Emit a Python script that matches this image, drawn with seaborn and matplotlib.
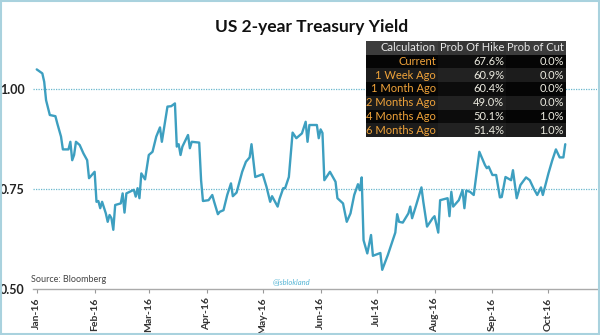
import matplotlib
matplotlib.use("Agg")
import matplotlib.pyplot as plt
import matplotlib.dates as mdates
from matplotlib.patches import Rectangle
import numpy as np
import pandas as pd
import seaborn as sns

# ---- data ----
day_offset = [0, 3, 4, 5, 7, 10, 11, 13, 14, 17, 18, 19, 20, 21, 23, 25, 27, 28, 31, 32,
              33, 34, 35, 37, 38, 39, 40, 41, 42, 45, 46, 47, 48, 52, 53, 54, 55, 56, 58, 60,
              62, 64, 66, 67, 70, 72, 74, 75, 76, 77, 78, 81, 82, 83, 87, 88, 89, 92, 94, 95,
              97, 98, 100, 102, 104, 105, 107, 110, 112, 114, 115, 117, 121, 123, 125, 126, 129, 130, 132, 133,
              135, 137, 139, 142, 144, 145, 146, 150, 151, 152, 153, 154, 157, 160, 161, 164, 166, 168, 170, 172,
              173, 174, 175, 177, 179, 180, 184, 185, 188, 192, 193, 194, 196, 199, 200, 201, 203, 206, 207, 209,
              212, 213, 215, 216, 220, 221, 222, 223, 226, 228, 229, 230, 232, 234, 237, 240, 241, 242, 244, 246,
              248, 249, 251, 254, 255, 257, 259, 262, 264, 266, 268, 270, 271, 274, 276, 278, 280, 282, 283]
yield_pct = [1.049, 1.039, 1.018, 0.972, 0.935, 0.932, 0.914, 0.881, 0.849, 0.849, 0.868, 0.822, 0.835, 0.868, 0.860, 0.839, 0.822, 0.777, 0.793, 0.718,
             0.720, 0.702, 0.718, 0.689, 0.668, 0.685, 0.677, 0.648, 0.710, 0.714, 0.739, 0.691, 0.739, 0.748, 0.731, 0.752, 0.727, 0.789, 0.774, 0.835,
             0.843, 0.881, 0.904, 0.868, 0.956, 0.957, 0.964, 0.856, 0.862, 0.835, 0.856, 0.885, 0.852, 0.868, 0.866, 0.772, 0.720, 0.722, 0.735, 0.718,
             0.687, 0.693, 0.697, 0.735, 0.764, 0.732, 0.741, 0.793, 0.818, 0.829, 0.862, 0.780, 0.787, 0.756, 0.718, 0.732, 0.706, 0.725, 0.752, 0.752,
             0.780, 0.891, 0.877, 0.889, 0.918, 0.868, 0.910, 0.910, 0.877, 0.899, 0.890, 0.772, 0.793, 0.768, 0.727, 0.714, 0.668, 0.689, 0.735, 0.762,
             0.747, 0.779, 0.622, 0.589, 0.635, 0.583, 0.590, 0.548, 0.585, 0.641, 0.687, 0.668, 0.666, 0.689, 0.706, 0.677, 0.707, 0.754, 0.718, 0.656,
             0.677, 0.682, 0.641, 0.722, 0.727, 0.682, 0.743, 0.706, 0.722, 0.747, 0.702, 0.746, 0.743, 0.735, 0.843, 0.810, 0.802, 0.806, 0.785, 0.785,
             0.729, 0.730, 0.780, 0.772, 0.797, 0.727, 0.760, 0.779, 0.772, 0.752, 0.735, 0.754, 0.735, 0.789, 0.821, 0.849, 0.829, 0.829, 0.862]

y_ticks = [0.50, 0.75, 1.00]
y_tick_labels = ["0.50", "0.75", "1.00"]
month_labels = ["Jan-16", "Feb-16", "Mar-16", "Apr-16", "May-16", "Jun-16",
                "Jul-16", "Aug-16", "Sep-16", "Oct-16"]

table_header = ["Calculation", "Prob Of Hike", "Prob of Cut"]
table_rows = ["Current", "1 Week Ago", "1 Month Ago", "2 Months Ago", "4 Months Ago", "6 Months Ago"]
prob_hike = ["67.6%", "60.9%", "60.4%", "49.0%", "50.1%", "51.4%"]
prob_cut = ["0.0%", "0.0%", "0.0%", "0.0%", "1.0%", "1.0%"]

title = "US 2-year Treasury Yield"
source = "Source: Bloomberg"
handle = "@jsblokland"

# ---- build ----
start = pd.Timestamp("2016-01-01")
df = pd.DataFrame({"date": start + pd.to_timedelta(day_offset, unit="D"),
                   "yield": yield_pct})

sns.set_theme(style="white")
plt.rcParams["font.family"] = ["Lato", "DejaVu Sans"]

W, H = 600, 335
fig = plt.figure(figsize=(6, 3.35), dpi=100)
fig.patch.set_facecolor("white")

def fx(px):
    return px / W

def fy(py):
    return 1 - py / H

ax_l, ax_r, ax_t, ax_b = 33, 597, 41, 289
ax = fig.add_axes([fx(ax_l), fy(ax_b), fx(ax_r - ax_l), (ax_b - ax_t) / H])

line_color = "#3d9fc0"
sns.lineplot(data=df, x="date", y="yield", ax=ax, color=line_color, linewidth=1.7)

ax.set_xlim(start - pd.Timedelta(days=2), start + pd.Timedelta(days=300))
ax.set_ylim(0.50, 1.12)

for v in [0.75, 1.00]:
    ax.axhline(v, color="#6ab8cf", linestyle=(0, (1, 1)), linewidth=0.9, zorder=0)

month_ticks = pd.date_range("2016-01-01", periods=len(month_labels), freq="MS")
ax.set_xticks(month_ticks)
ax.set_xticklabels(month_labels, rotation=90, fontsize=7.5, fontweight="bold", color="#333333")
ax.set_yticks(y_ticks)
ax.set_yticklabels(y_tick_labels, fontsize=9, fontweight="bold", color="#222222")
ax.tick_params(axis="x", length=3, width=0.8, color="#999999", pad=3, bottom=True)
ax.tick_params(axis="y", length=0, pad=6)
ax.set_xlabel("")
ax.set_ylabel("")
for s in ["top", "right", "left"]:
    ax.spines[s].set_visible(False)
ax.spines["bottom"].set_color("#aaaaaa")
ax.spines["bottom"].set_linewidth(1.0)
ax.set_facecolor("none")

# title and notes
fig.text(fx(312), fy(27), title, ha="center", va="center", fontsize=12.5,
         fontweight="bold", color="#111111")
fig.text(fx(31), fy(280), source, ha="left", va="center", fontsize=6.5, color="#444444")
fig.text(fx(291), fy(282), handle, ha="center", va="center", fontsize=5.5,
         color="#55b5d5", style="italic")

# table
tb_l, tb_r, tb_t, tb_b = 366, 566, 41, 137
tax = fig.add_axes([fx(tb_l), fy(tb_b), fx(tb_r - tb_l), (tb_b - tb_t) / H])
tax.set_xlim(0, tb_r - tb_l)
tax.set_ylim(tb_b - tb_t, 0)
tax.axis("off")
nrow = len(table_rows) + 1
rh = (tb_b - tb_t) / nrow
col_right = [436 - tb_l, 504 - tb_l, 564 - tb_l]
col_edges = [0, 438 - tb_l, 506 - tb_l, tb_r - tb_l]
for i in range(nrow):
    if i == 0:
        shades = ["#3c3c3c", "#353535", "#3c3c3c"]
    elif i % 2 == 1:
        shades = ["#050505", "#0c0c0c", "#050505"]
    else:
        shades = ["#1c1c1c", "#222222", "#1c1c1c"]
    for j in range(3):
        tax.add_patch(Rectangle((col_edges[j], i * rh), col_edges[j + 1] - col_edges[j], rh,
                                facecolor=shades[j], edgecolor="none"))
tfs = 8
for j, h in enumerate(table_header):
    tax.text(col_right[j], 0.5 * rh, h, ha="right", va="center", fontsize=tfs, color="#e8e8e8")
for i, (lab, hk, ct) in enumerate(zip(table_rows, prob_hike, prob_cut)):
    yc = (i + 1.5) * rh
    tax.text(col_right[0], yc, lab, ha="right", va="center", fontsize=tfs, color="#f0a33a")
    tax.text(col_right[1], yc, hk, ha="right", va="center", fontsize=tfs, color="#ecebe0")
    tax.text(col_right[2], yc, ct, ha="right", va="center", fontsize=tfs, color="#ecebe0")

# figure border
fig.patches.append(Rectangle((0.0015, 0.003), 0.997, 0.994, transform=fig.transFigure,
                             fill=False, edgecolor="#a9d2de", linewidth=1.5))

fig.savefig("out.png", dpi=100)
